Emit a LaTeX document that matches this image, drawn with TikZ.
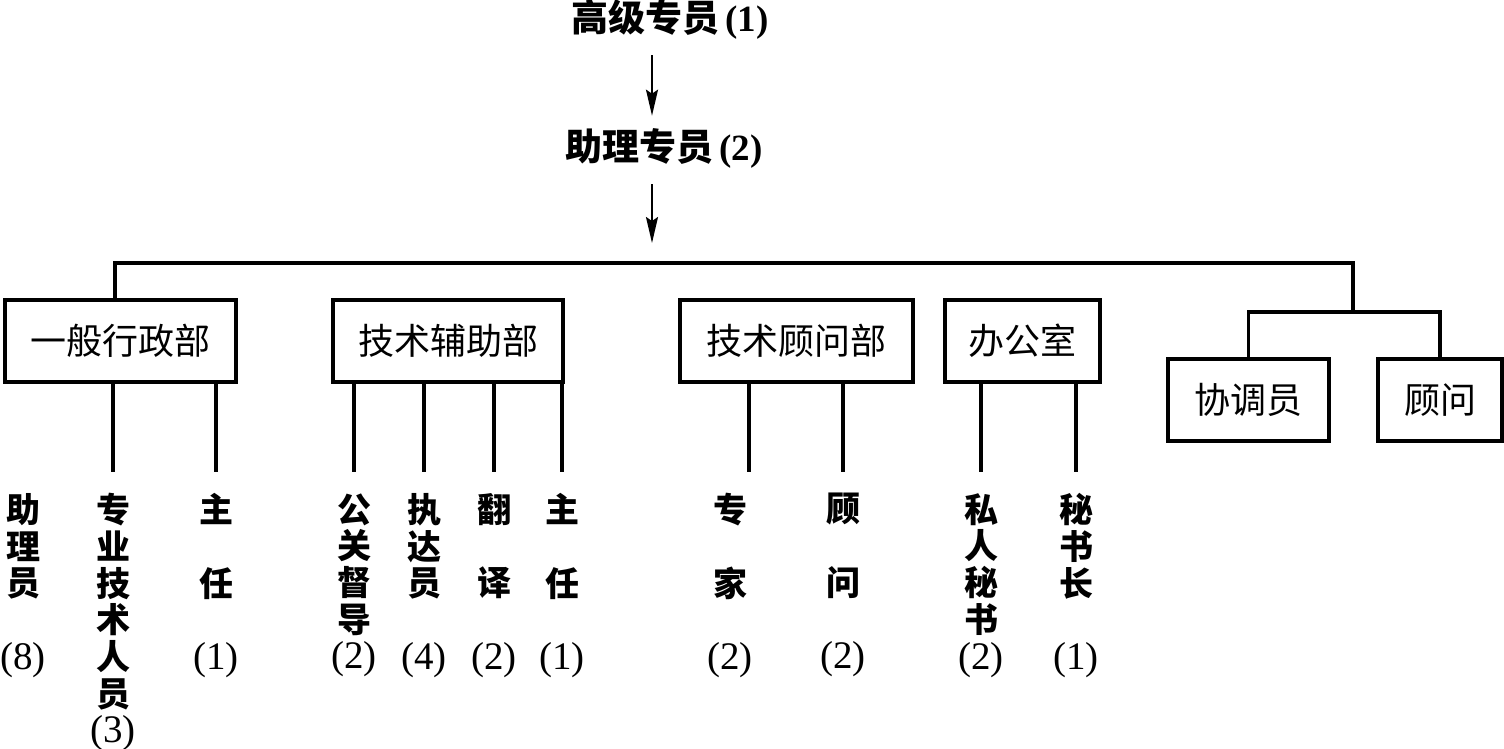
\documentclass[tikz,border=0pt]{standalone}
\usepackage{fontspec}
\setmainfont{Liberation Serif}
\newfontfamily\cjk{Noto Sans CJK SC}
\usetikzlibrary{arrows.meta,positioning}
\tikzset{>={Stealth[length=13pt,width=6pt,inset=2pt]}}
\newcommand{\cnt}[1]{{\rmfamily\mdseries\fontsize{19.5}{18.35}\selectfont(#1)}}

\begin{document}
\begin{tikzpicture}[x=0.5pt,y=-0.5pt,
  head/.style={inner sep=0pt,font=\cjk\bfseries\fontsize{18.5}{20}\selectfont},
  dept/.style={draw,line width=1.6pt,minimum height=41pt,inner sep=0pt,font=\cjk\fontsize{18}{20}\selectfont},
  post/.style={anchor=north,align=center,inner sep=0pt,font=\cjk\bfseries\fontsize{17}{18.35}\selectfont},
  leg/.style={line width=1.6pt}]
\useasboundingbox (0,0) rectangle (1504,749);
% the two top posts
\node[head] (top) at (670,19) {高级专员\,\textrm{(1)}};
\node[head] (mid) at (664,148) {助理专员\,\textrm{(2)}};
\coordinate (ax) at (652,0);
\coordinate (arr) at (652,243);
\draw[->,line width=1pt,shorten <=8pt,shorten >=6pt] (top.south -| ax) -- (mid.north -| ax);
\draw[->,line width=1pt,shorten <=8pt] (mid.south -| ax) -- (arr);
% departments
\node[dept,minimum width=115.5pt] (gen) at (120.5,341) {一般行政部};
\node[dept,minimum width=115pt] (tsup) at (448,341) {技术辅助部};
\node[dept,minimum width=116.5pt] (tadv) at (796.5,341) {技术顾问部};
\node[dept,minimum width=77.5pt] (off) at (1022.5,341) {办公室};
\node[dept,minimum width=80.5pt] (coo) at (1248.5,400) {协调员};
\node[dept,minimum width=62pt] (advr) at (1440,400) {顾问};
% bus
\coordinate (busL) at (115,263);
\coordinate (busR) at (1353,263);
\coordinate (hub) at (1353,312);
\draw[leg] (gen.north -| busL) -- (busL) -- (busR) -- (hub);
\draw[leg] (coo.north) |- (hub) -| (advr.north);
% staff under each department
\node[post] (p1) at (23,493) {助\\理\\员\\{}\\\cnt{8}};
\node[post] (p2) at (113,493) {专\\业\\技\\术\\人\\员\\\cnt{3}};
\node[post] (p3) at (216,493) {主\\{}\\任\\{}\\\cnt{1}};
\node[post] (p4) at (354,493) {公\\关\\督\\导\\\cnt{2}};
\node[post] (p5) at (424,493) {执\\达\\员\\{}\\\cnt{4}};
\node[post] (p6) at (494,493) {翻\\{}\\译\\{}\\\cnt{2}};
\node[post] (p7) at (562,493) {主\\{}\\任\\{}\\\cnt{1}};
\node[post] (p8) at (730,493) {专\\{}\\家\\{}\\\cnt{2}};
\node[post] (p9) at (843,493) {顾\\{}\\问\\{}\\\cnt{2}};
\node[post] (p10) at (981,493) {私\\人\\秘\\书\\\cnt{2}};
\node[post] (p11) at (1076,493) {秘\\书\\长\\{}\\\cnt{1}};
\foreach \p in {p2,p3}
  \draw[leg] (gen.south -| \p.north) -- ++(0,88);
\foreach \p in {p4,p5,p6,p7}
  \draw[leg] (tsup.south -| \p.north) -- ++(0,88);
\draw[leg] (tadv.south -| p8.north) ++(19,0) -- ++(0,88);
\draw[leg] (tadv.south -| p9.north) -- ++(0,88);
\foreach \p in {p10,p11}
  \draw[leg] (off.south -| \p.north) -- ++(0,88);
\end{tikzpicture}
\end{document}
